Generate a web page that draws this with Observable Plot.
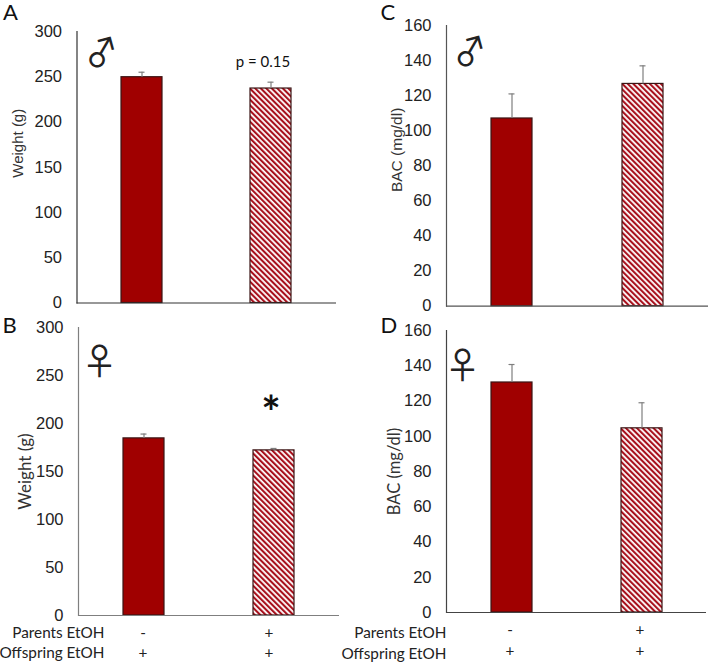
<!DOCTYPE html>
<html>
<head>
<meta charset="utf-8">
<script src="https://cdn.jsdelivr.net/npm/d3@7"></script>
<script src="https://cdn.jsdelivr.net/npm/@observablehq/plot@0.6"></script>
<style>
html,body{margin:0;padding:0;background:#fff}
#root{position:relative;width:710px;height:662px;overflow:hidden}
#root>svg{position:absolute;overflow:visible;background:transparent}
</style>
</head>
<body>
<div id="root"></div>
<script>
const groups = ["EtOH- parents", "EtOH+ parents"];
const parentsRow = ["-", "+"];
const offspringRow = ["+", "+"];

const weightMale = [249.5, 237];
const weightMaleTop = [255, 244];
const weightFemale = [184.5, 172];
const weightFemaleTop = [189, 174];
const bacMale = [107, 126.7];
const bacMaleTop = [121, 137];
const bacFemale = [130.5, 104.5];
const bacFemaleTop = [140.7, 119];

const weightTicks = [0, 50, 100, 150, 200, 250, 300];
const bacTicks = [0, 20, 40, 60, 80, 100, 120, 140, 160];

const SOLID = "#a00000";
const CALIBRI = "Lato, 'Open Sans', sans-serif";
const ARIAL = "'Liberation Sans', Arial, sans-serif";

function hatchDefs() {
  const defs = d3.create("svg:defs");
  const p = defs.append("pattern").attr("id", "hatch").attr("patternUnits", "userSpaceOnUse")
    .attr("width", 3.9).attr("height", 3.9).attr("patternTransform", "rotate(-45)");
  p.append("rect").attr("width", 3.9).attr("height", 3.9).attr("fill", "#fff");
  p.append("rect").attr("width", 2.1).attr("height", 3.9).attr("fill", "#a8101c");
  return defs.node();
}

function panel(c) {
  const rows = groups.map((g, i) => ({g, v: c.values[i], top: c.tops[i]}));
  const marks = [
    hatchDefs,
    Plot.barY(rows, {x: "g", y: "v", fill: d => d.g === groups[0] ? SOLID : "url(#hatch)", stroke: "#3a1515", strokeWidth: 1.2}),
    Plot.ruleX(rows, {x: "g", y1: "v", y2: "top", stroke: "#7f7f7f", strokeWidth: 1.2}),
    Plot.tickY(rows, {x: "g", y: "top", stroke: "#7f7f7f", strokeWidth: 1.2, insetLeft: 17.5, insetRight: 17.5}),
    Plot.ruleY([0], {stroke: c.axisColor, strokeWidth: 1.2}),
    Plot.axisY({ticks: c.ticks, tickSize: 0, tickPadding: 15, label: null, fontSize: 16.5, fontFamily: ARIAL, color: "#222", tickFormat: d => d}),
    Plot.frame({anchor: "left", stroke: c.axisColor, strokeWidth: 1.2}),
    Plot.text([c.yLabel], {frameAnchor: "left", textAnchor: "middle", rotate: -90, dx: c.labelDx, dy: c.labelDy, fontSize: c.labelSize, fontFamily: c.labelFont, fill: "#333"}),
    Plot.text([c.letter], {frameAnchor: "top-left", dx: c.letterDx, dy: c.letterDy, fontSize: 22, fontFamily: CALIBRI, fill: "#111"}),
    Plot.text([c.sex], {frameAnchor: "top-left", textAnchor: "middle", lineAnchor: "middle", dx: c.sexDx, dy: c.sexDy, rotate: c.sexRotate, fontSize: 36, fontFamily: "'Noto Sans CJK JP'", fill: "#222"})
  ];
  if (c.note) marks.push(Plot.text([c.note], {x: () => groups[1], y: () => c.noteY, dx: c.noteDx, fontSize: c.noteSize, fontWeight: c.noteWeight, fontFamily: CALIBRI, fill: "#111"}));
  if (c.rows) {
    const base = {frameAnchor: "bottom", fontSize: 15.3, fontFamily: CALIBRI, fill: "#222"};
    groups.forEach((g, i) => {
      marks.push(
        Plot.text([parentsRow[i]], {...base, x: () => g, dx: c.signDx[i], dy: c.rowDy1 + c.signDy}),
        Plot.text([offspringRow[i]], {...base, x: () => g, dx: c.signDx[i], dy: c.rowDy2 + c.signDy})
      );
    });
    marks.push(
      Plot.text(["Parents EtOH"], {...base, frameAnchor: "bottom-left", textAnchor: "end", dx: c.rowDx, dy: c.rowDy1}),
      Plot.text(["Offspring EtOH"], {...base, frameAnchor: "bottom-left", textAnchor: "end", dx: c.rowDx, dy: c.rowDy2})
    );
  }
  const svg = Plot.plot({
    width: c.width, height: c.height,
    marginLeft: c.ml, marginRight: c.mr, marginTop: c.mt, marginBottom: c.mb,
    style: {background: "transparent", overflow: "visible", fontFamily: ARIAL},
    x: {type: "band", domain: groups, paddingInner: 0.685, paddingOuter: 0.342, align: 0.5, axis: null},
    y: {domain: c.domain, axis: null},
    marks
  });
  svg.style.left = c.left + "px";
  svg.style.top = c.top + "px";
  document.getElementById("root").appendChild(svg);
}

panel({letter: "A", sex: "\u2642", yLabel: "Weight (g)", labelFont: ARIAL, labelSize: 15, values: weightMale, tops: weightMaleTop, ticks: weightTicks, domain: [0, 300],
  left: 0, top: 0, width: 355, height: 312, ml: 76.5, mr: 19, mt: 31, mb: 9.5, axisColor: "#333",
  labelDx: -58.5, labelDy: -24, letterDx: -74, letterDy: -27, sexDx: 25, sexDy: 23, sexRotate: -15,
  note: "p = 0.15", noteY: 266, noteDx: -8, noteSize: 15, noteWeight: 400});
panel({letter: "B", sex: "\u2640", yLabel: "Weight (g)", labelFont: CALIBRI, labelSize: 17, values: weightFemale, tops: weightFemaleTop, ticks: weightTicks, domain: [0, 300],
  left: 0, top: 312, width: 355, height: 350, ml: 78, mr: 16, mt: 15, mb: 47, axisColor: "#7f7f7f",
  labelDx: -53, labelDy: 0, letterDx: -76, letterDy: -10, sexDx: 21, sexDy: 36, sexRotate: 0,
  note: "*", noteY: 210, noteDx: -3, noteSize: 46, noteWeight: 700,
  rows: true, rowDx: 26, rowDy1: 22, rowDy2: 42, signDx: [-1, -5], signDy: 0});
panel({letter: "C", sex: "\u2642", yLabel: "BAC (mg/dl)", labelFont: ARIAL, labelSize: 15.5, values: bacMale, tops: bacMaleTop, ticks: bacTicks, domain: [0, 160],
  left: 355, top: 0, width: 355, height: 313, ml: 91, mr: 2, mt: 25, mb: 7.3, axisColor: "#555",
  labelDx: -49, labelDy: -16, letterDx: -66, letterDy: -21, sexDx: 24, sexDy: 28, sexRotate: -15});
panel({letter: "D", sex: "\u2640", yLabel: "BAC (mg/dl)", labelFont: CALIBRI, labelSize: 16.5, values: bacFemale, tops: bacFemaleTop, ticks: bacTicks, domain: [0, 160],
  left: 355, top: 313, width: 355, height: 349, ml: 91, mr: 4, mt: 17, mb: 50, axisColor: "#444",
  labelDx: -52, labelDy: 0, letterDx: -66, letterDy: -13, sexDx: 16, sexDy: 37, sexRotate: 0,
  rows: true, rowDx: 0, rowDy1: 25, rowDy2: 46, signDx: [-2, -2], signDy: -3});
</script>
</body>
</html>
